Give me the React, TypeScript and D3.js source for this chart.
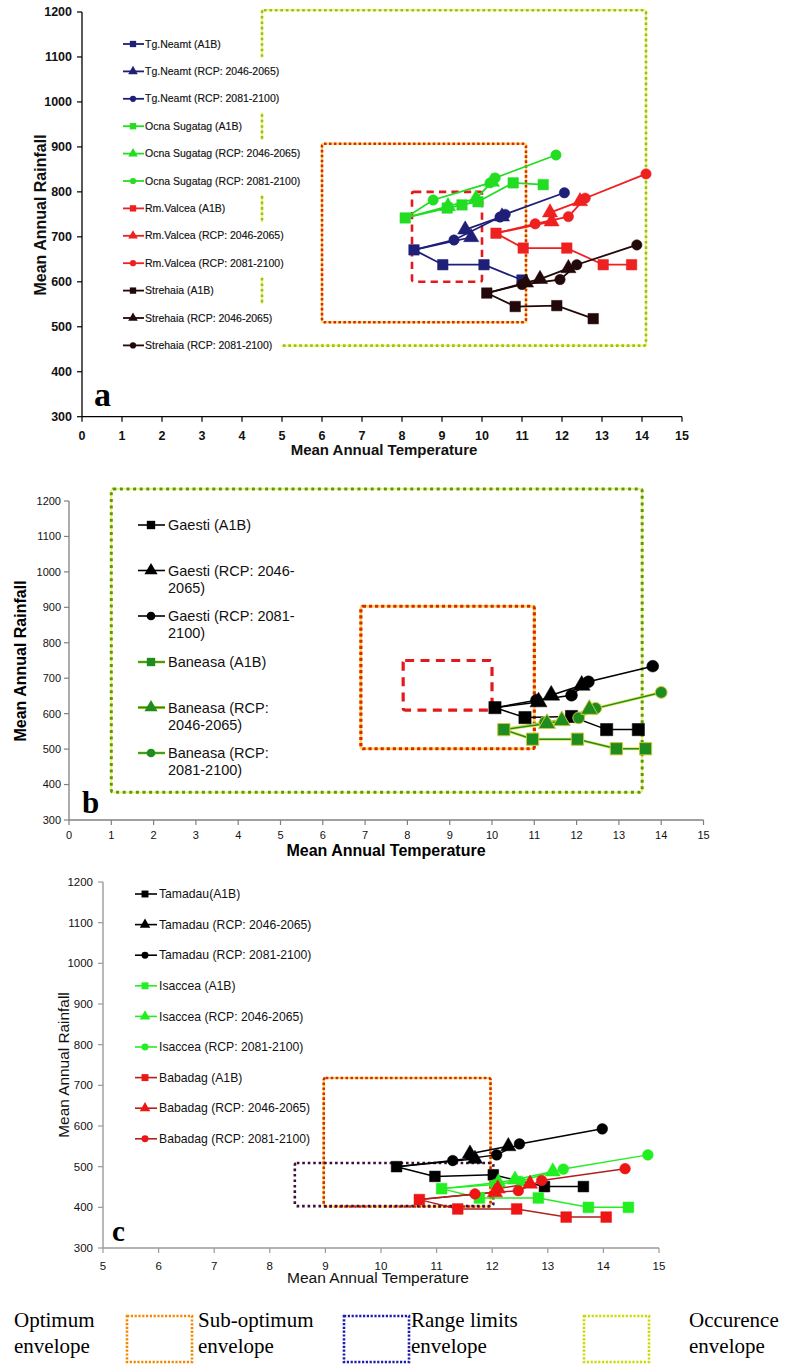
import React from 'react';
import * as d3 from 'd3';

type Pt = [number, number];

// ---------- Panel a data (Mean Annual Temperature, Mean Annual Rainfall) ----------
const tgNeamtA1B: Pt[] = [[8.3, 671], [9.02, 638], [10.05, 638], [11.0, 604]];
const tgNeamtRcp4665: Pt[] = [[8.3, 671], [9.73, 699], [9.58, 716], [10.5, 745]];
const tgNeamtRcp8100: Pt[] = [[8.3, 671], [9.3, 693], [10.45, 744], [10.58, 750], [12.06, 798]];
const ocnaA1B: Pt[] = [[8.08, 742], [9.13, 764], [9.5, 771], [9.9, 778], [10.78, 820], [11.53, 816]];
const ocnaRcp4665: Pt[] = [[8.08, 742], [9.15, 768], [9.85, 785], [10.25, 822]];
const ocnaRcp8100: Pt[] = [[8.08, 742], [8.78, 782], [10.2, 820], [10.33, 831], [11.85, 882]];
const rmValceaA1B: Pt[] = [[10.35, 708], [11.03, 675], [12.12, 675], [13.03, 638], [13.74, 638]];
const rmValceaRcp4665: Pt[] = [[10.35, 708], [11.74, 734], [11.7, 754], [12.45, 779]];
const rmValceaRcp8100: Pt[] = [[10.35, 708], [11.33, 729], [12.16, 745], [12.58, 786], [14.1, 840]];
const strehaiaA1B: Pt[] = [[10.12, 575], [10.83, 545], [11.87, 547], [12.78, 518]];
const strehaiaRcp4665: Pt[] = [[10.12, 575], [11.1, 598], [11.45, 606], [12.16, 630]];
const strehaiaRcp8100: Pt[] = [[10.12, 575], [11.0, 594], [11.95, 605], [12.37, 638], [13.87, 682]];

// ---------- Panel b data ----------
const gaestiA1B: Pt[] = [[10.07, 617], [10.78, 589], [11.88, 592], [12.71, 555], [13.46, 555]];
const gaestiRcp4665: Pt[] = [[10.07, 617], [11.1, 633], [11.4, 652], [12.12, 680]];
const gaestiRcp8100: Pt[] = [[10.07, 617], [11.05, 638], [11.88, 652], [12.28, 690], [13.8, 734]];
const baneasaA1B: Pt[] = [[10.28, 555], [10.96, 528], [12.02, 528], [12.94, 501], [13.63, 501]];
const baneasaRcp4665: Pt[] = [[10.28, 555], [11.3, 572], [11.65, 580], [12.3, 612]];
const baneasaRcp8100: Pt[] = [[10.28, 555], [11.25, 575], [12.05, 588], [12.45, 615], [14.0, 660]];

// ---------- Panel c data ----------
const tamadauA1B: Pt[] = [[10.28, 500], [10.97, 476], [12.02, 480], [12.94, 451], [13.64, 451]];
const tamadauRcp4665: Pt[] = [[10.28, 500], [11.69, 519], [11.6, 532], [12.29, 550]];
const tamadauRcp8100: Pt[] = [[10.28, 500], [11.29, 515], [12.08, 529], [12.49, 556], [13.98, 593]];
const isacceaA1B: Pt[] = [[11.09, 446], [11.77, 423], [12.83, 423], [13.73, 400], [14.45, 400]];
const isacceaRcp4665: Pt[] = [[11.09, 446], [12.11, 461], [12.41, 468], [13.09, 488]];
const isacceaRcp8100: Pt[] = [[11.09, 446], [12.05, 456], [12.5, 464], [13.28, 494], [14.8, 529]];
const babadagA1B: Pt[] = [[10.69, 419], [11.38, 396], [12.44, 396], [13.33, 376], [14.05, 376]];
const babadagRcp4665: Pt[] = [[10.69, 419], [12.05, 437], [12.1, 446], [12.68, 458]];
const babadagRcp8100: Pt[] = [[10.69, 419], [11.69, 433], [12.47, 441], [12.89, 466], [14.39, 495]];

// ---------- Envelopes [xMin, xMax, yMin, yMax] ----------
const envOccurrenceA = [4.5, 14.1, 458, 1204];
const envSubOptimumA = [6.0, 11.1, 510, 907];
const envOptimumA = [8.25, 10.0, 600, 800];
const envOccurrenceB = [1.0, 13.55, 378, 1234];
const envSubOptimumB = [6.9, 11.0, 501, 903];
const envOptimumB = [7.9, 10.0, 610, 750];
const envSubOptimumC = [8.97, 11.97, 402, 718];
const envRangeC = [8.45, 12.02, 403, 509];

// ---------- Ticks & labels ----------
const yTicks = [300, 400, 500, 600, 700, 800, 900, 1000, 1100, 1200];
const xTicksAB = [0, 1, 2, 3, 4, 5, 6, 7, 8, 9, 10, 11, 12, 13, 14, 15];
const xTicksC = [5, 6, 7, 8, 9, 10, 11, 12, 13, 14, 15];

const legendLabelsA = [
  'Tg.Neamt (A1B)', 'Tg.Neamt (RCP: 2046-2065)', 'Tg.Neamt (RCP: 2081-2100)',
  'Ocna Sugatag (A1B)', 'Ocna Sugatag (RCP: 2046-2065)', 'Ocna Sugatag (RCP: 2081-2100)',
  'Rm.Valcea (A1B)', 'Rm.Valcea (RCP: 2046-2065)', 'Rm.Valcea (RCP: 2081-2100)',
  'Strehaia (A1B)', 'Strehaia (RCP: 2046-2065)', 'Strehaia (RCP: 2081-2100)',
];
const legendLabelsB = [
  ['Gaesti (A1B)'], ['Gaesti  (RCP: 2046-', '2065)'], ['Gaesti (RCP: 2081-', '2100)'],
  ['Baneasa (A1B)'], ['Baneasa (RCP:', '2046-2065)'], ['Baneasa (RCP:', '2081-2100)'],
];
const legendLabelsC = [
  'Tamadau(A1B)', 'Tamadau (RCP: 2046-2065)', 'Tamadau (RCP: 2081-2100)',
  'Isaccea (A1B)', 'Isaccea (RCP: 2046-2065)', 'Isaccea (RCP: 2081-2100)',
  'Babadag (A1B)', 'Babadag (RCP: 2046-2065)', 'Babadag (RCP: 2081-2100)',
];
const bottomLegendLabels = [
  ['Optimum', 'envelope'], ['Sub-optimum', 'envelope'], ['Range limits', 'envelope'], ['Occurence', 'envelope'],
];

type Shape = 'square' | 'triangle' | 'circle';
const shapes: Shape[] = ['square', 'triangle', 'circle'];

const symPath = (shape: Shape, size: number) =>
  d3.symbol().type(shape === 'square' ? d3.symbolSquare : shape === 'triangle' ? d3.symbolTriangle : d3.symbolCircle).size(size)() as string;

let ctx: CanvasRenderingContext2D | null = null;
const measure = (t: string, font: string) => {
  if (!ctx) ctx = document.createElement('canvas').getContext('2d');
  if (!ctx) return t.length * 5;
  ctx.font = font;
  return ctx.measureText(t).width;
};

interface Series { pts: Pt[]; color: string; line: string; shape: Shape; halo?: string; mstroke?: string; }

const SANS = "'Liberation Sans', Arial, sans-serif";
const SERIF = "'Liberation Serif', 'Times New Roman', serif";

function SeriesMarks({ series, x, y, sizes, lw }: { series: Series[]; x: any; y: any; sizes: Record<Shape, number>; lw: number }) {
  const line = d3.line<Pt>().x(d => x(d[0])).y(d => y(d[1]));
  return (
    <g>
      {series.map((s, i) => (
        <g key={'l' + i}>
          {s.halo && <path d={line(s.pts) as string} fill="none" stroke={s.halo} strokeWidth={lw + 1.6} />}
          <path d={line(s.pts) as string} fill="none" stroke={s.line} strokeWidth={lw} />
        </g>
      ))}
      {series.map((s, i) => (
        <g key={'m' + i}>
          {s.pts.map((p, j) => (j === 0 && s.shape !== 'square') ? null : (
            <path key={j} d={symPath(s.shape, sizes[s.shape])} transform={`translate(${x(p[0])},${y(p[1])})`}
              fill={s.color} stroke={s.mstroke || s.color} strokeWidth={s.mstroke ? 1 : 0.5} />
          ))}
        </g>
      ))}
    </g>
  );
}

function Envelope({ e, x, y, kind, w }: { e: number[]; x: any; y: any; kind: string; w: number }) {
  const X0 = x(e[0]), X1 = x(e[1]), Y0 = y(e[3]), Y1 = y(e[2]);
  const r = { x: X0, y: Y0, width: X1 - X0, height: Y1 - Y0, fill: 'none', rx: 2 };
  if (kind === 'optimum') return <rect {...r} stroke="#e3191b" strokeWidth={w} strokeDasharray={`${w * 2.8} ${w * 2}`} />;
  if (kind === 'sub') return (
    <g>
      <rect {...r} stroke="#ffd84a" strokeWidth={w * 0.8} />
      <rect {...r} stroke="#d82a05" strokeWidth={w} strokeDasharray={`${w} ${w * 0.9}`} />
    </g>
  );
  if (kind === 'occA') return (
    <g>
      <rect {...r} stroke="#f2f27a" strokeWidth={w * 0.7} />
      <rect {...r} stroke="#99c400" strokeWidth={w} strokeDasharray={`${w} ${w * 1.1}`} />
    </g>
  );
  if (kind === 'occB') return (
    <g>
      <rect {...r} stroke="#eef07a" strokeWidth={w * 0.6} />
      <rect {...r} stroke="#5c9a00" strokeWidth={w} strokeDasharray={`${w} ${w * 1.2}`} />
    </g>
  );
  return <rect {...r} stroke="#3d0d3d" strokeWidth={w} strokeDasharray={`${w} ${w * 1.1}`} />;
}

export default function App() {
  // ---------- Panel a ----------
  const xa = d3.scaleLinear().domain([0, 15]).range([82, 682]);
  const ya = d3.scaleLinear().domain([300, 1200]).range([416.7, 12]);
  const cNavy = '#1f1f78', cGreen = '#22dd22', cRed = '#ee2020', cDark = '#220808';
  const seriesA: Series[] = [
    { pts: tgNeamtRcp8100, color: cNavy, line: cNavy, shape: 'circle' },
    { pts: tgNeamtRcp4665, color: cNavy, line: cNavy, shape: 'triangle' },
    { pts: tgNeamtA1B, color: cNavy, line: cNavy, shape: 'square' },
    { pts: ocnaRcp8100, color: cGreen, line: cGreen, shape: 'circle' },
    { pts: ocnaRcp4665, color: cGreen, line: cGreen, shape: 'triangle' },
    { pts: ocnaA1B, color: cGreen, line: cGreen, shape: 'square' },
    { pts: rmValceaRcp8100, color: cRed, line: cRed, shape: 'circle' },
    { pts: rmValceaRcp4665, color: cRed, line: cRed, shape: 'triangle' },
    { pts: rmValceaA1B, color: cRed, line: cRed, shape: 'square' },
    { pts: strehaiaRcp8100, color: cDark, line: cDark, shape: 'circle' },
    { pts: strehaiaRcp4665, color: cDark, line: cDark, shape: 'triangle' },
    { pts: strehaiaA1B, color: cDark, line: cDark, shape: 'square' },
  ];
  const legendColorsA = [cNavy, cNavy, cNavy, cGreen, cGreen, cGreen, cRed, cRed, cRed, cDark, cDark, cDark];
  const fontLegA = `10.5px ${SANS}`;

  // ---------- Panel b ----------
  const xb = d3.scaleLinear().domain([0, 15]).range([69, 703.5]);
  const yb = d3.scaleLinear().domain([300, 1200]).range([820, 501]);
  const cBlack = '#000000', cDG = '#1e8c1e';
  const seriesB: Series[] = [
    { pts: gaestiRcp8100, color: cBlack, line: cBlack, shape: 'circle' },
    { pts: gaestiRcp4665, color: cBlack, line: cBlack, shape: 'triangle' },
    { pts: gaestiA1B, color: cBlack, line: cBlack, shape: 'square' },
    { pts: baneasaRcp8100, color: cDG, line: cDG, shape: 'circle', halo: '#e6e65a', mstroke: '#c9c93a' },
    { pts: baneasaRcp4665, color: cDG, line: cDG, shape: 'triangle', halo: '#e6e65a', mstroke: '#c9c93a' },
    { pts: baneasaA1B, color: cDG, line: cDG, shape: 'square', halo: '#e6e65a', mstroke: '#c9c93a' },
  ];
  const legendColorsB = [cBlack, cBlack, cBlack, cDG, cDG, cDG];
  const legendRowsB = [525, 570.5, 616, 662, 707.5, 753];

  // ---------- Panel c ----------
  const xc = d3.scaleLinear().domain([5, 15]).range([103, 659]);
  const yc = d3.scaleLinear().domain([300, 1200]).range([1248, 882]);
  const cLG = '#22ee22', cBR = '#ee1515', cBRl = '#b02020';
  const seriesC: Series[] = [
    { pts: tamadauRcp8100, color: cBlack, line: cBlack, shape: 'circle' },
    { pts: tamadauRcp4665, color: cBlack, line: cBlack, shape: 'triangle' },
    { pts: tamadauA1B, color: cBlack, line: cBlack, shape: 'square' },
    { pts: isacceaRcp8100, color: cLG, line: cLG, shape: 'circle' },
    { pts: isacceaRcp4665, color: cLG, line: cLG, shape: 'triangle' },
    { pts: isacceaA1B, color: cLG, line: cLG, shape: 'square' },
    { pts: babadagRcp8100, color: cBR, line: cBRl, shape: 'circle' },
    { pts: babadagRcp4665, color: cBR, line: cBRl, shape: 'triangle' },
    { pts: babadagA1B, color: cBR, line: cBRl, shape: 'square' },
  ];
  const legendColorsC = [cBlack, cBlack, cBlack, cLG, cLG, cLG, cBR, cBR, cBR];

  const bottomBoxColors = ['none', '#f28a00', '#1c1cb0', '#c8dc00'];
  const bottomBoxX = [0, 127, 344, 584];
  const bottomTextX = [14, 198, 411, 689];

  return (
    <svg width={786} height={1366} style={{ position: 'absolute', left: 0, top: 0, background: '#fff' }} fontFamily={SANS}>
      <rect x={0} y={0} width={786} height={1366} fill="#fff" />

      {/* ================= Panel a ================= */}
      <g>
        <Envelope e={envOccurrenceA} x={xa} y={ya} kind="occA" w={2.6} />
        <Envelope e={envSubOptimumA} x={xa} y={ya} kind="sub" w={2.6} />
        <Envelope e={envOptimumA} x={xa} y={ya} kind="optimum" w={2.6} />
        <line x1={xa(0)} x2={xa(0)} y1={ya(300)} y2={ya(1200)} stroke="#000" strokeWidth={1.3} />
        <line x1={xa(0)} x2={xa(15)} y1={ya(300)} y2={ya(300)} stroke="#000" strokeWidth={1.3} />
        {yTicks.map(t => (
          <g key={'ya' + t}>
            <line x1={xa(0) - 5} x2={xa(0)} y1={ya(t)} y2={ya(t)} stroke="#000" strokeWidth={1.2} />
            <text x={72} y={ya(t)} dy="0.35em" textAnchor="end" fontSize={12.5} fontWeight="bold" fill="#111">{t}</text>
          </g>
        ))}
        {xTicksAB.map(t => (
          <g key={'xa' + t}>
            <line x1={xa(t)} x2={xa(t)} y1={ya(300)} y2={ya(300) + 5} stroke="#000" strokeWidth={1.2} />
            <text x={xa(t)} y={440} textAnchor="middle" fontSize={12.5} fontWeight="bold" fill="#111">{t}</text>
          </g>
        ))}
        <text transform="translate(46,215) rotate(-90)" textAnchor="middle" fontSize={16} fontWeight="bold" fill="#111">Mean Annual Rainfall</text>
        <text x={384} y={455} textAnchor="middle" fontSize={15} fontWeight="bold" fill="#111">Mean Annual Temperature</text>
        <text x={94} y={406} fontFamily={SERIF} fontSize={34} fontWeight="bold" fill="#000">a</text>
        <SeriesMarks series={seriesA} x={xa} y={ya} sizes={{ square: 110, triangle: 100, circle: 85 }} lw={1.8} />
        {legendLabelsA.map((lab, i) => {
          const cy = 44 + i * 27.4;
          const w = measure(lab, fontLegA);
          const col = legendColorsA[i];
          return (
            <g key={'la' + i}>
              <rect x={118} y={cy - 13.7} width={145 + w + 9 - 118} height={27.4} fill="#fff" />
              <line x1={123} x2={144} y1={cy} y2={cy} stroke={col} strokeWidth={1.8} />
              <path d={symPath(shapes[i % 3], i % 3 === 2 ? 30 : 40)} transform={`translate(133,${cy})`} fill={col} />
              <text x={145} y={cy} dy="0.35em" fontSize={10.5} fill="#111" stroke="#111" strokeWidth={0.15}>{lab}</text>
            </g>
          );
        })}
      </g>

      {/* ================= Panel b ================= */}
      <g>
        <Envelope e={envOccurrenceB} x={xb} y={yb} kind="occB" w={3} />
        <Envelope e={envSubOptimumB} x={xb} y={yb} kind="sub" w={3.2} />
        <Envelope e={envOptimumB} x={xb} y={yb} kind="optimum" w={3.2} />
        <line x1={xb(0)} x2={xb(0)} y1={yb(300)} y2={yb(1200)} stroke="#808080" strokeWidth={1.3} />
        <line x1={xb(0)} x2={xb(15)} y1={yb(300)} y2={yb(300)} stroke="#808080" strokeWidth={1.3} />
        {yTicks.map(t => (
          <g key={'yb' + t}>
            <line x1={xb(0) - 5} x2={xb(0)} y1={yb(t)} y2={yb(t)} stroke="#808080" strokeWidth={1.2} />
            <text x={61} y={yb(t)} dy="0.35em" textAnchor="end" fontSize={11} fill="#111">{t}</text>
          </g>
        ))}
        {xTicksAB.map(t => (
          <g key={'xb' + t}>
            <line x1={xb(t)} x2={xb(t)} y1={yb(300)} y2={yb(300) + 5} stroke="#808080" strokeWidth={1.2} />
            <text x={xb(t)} y={839} textAnchor="middle" fontSize={11} fill="#111">{t}</text>
          </g>
        ))}
        <text transform="translate(26,661) rotate(-90)" textAnchor="middle" fontSize={16} fontWeight="bold" fill="#000">Mean Annual Rainfall</text>
        <text x={386} y={856} textAnchor="middle" fontSize={16} fontWeight="bold" fill="#000">Mean Annual Temperature</text>
        <text x={82} y={813} fontFamily={SERIF} fontSize={31} fontWeight="bold" fill="#000">b</text>
        <SeriesMarks series={seriesB} x={xb} y={yb} sizes={{ square: 150, triangle: 125, circle: 110 }} lw={1.5} />
        {legendLabelsB.map((lines, i) => {
          const cy = legendRowsB[i];
          const col = legendColorsB[i];
          const halo = i === 4 ? '#c8d400' : i >= 3 ? '#d8dc50' : null;
          return (
            <g key={'lb' + i}>
              {halo && <line x1={138} x2={165} y1={cy} y2={cy} stroke={halo} strokeWidth={3} />}
              <line x1={138} x2={165} y1={cy} y2={cy} stroke={col} strokeWidth={1.6} />
              <path d={symPath(shapes[i % 3], i % 3 === 0 ? 70 : i % 3 === 1 ? 75 : 60)} transform={`translate(151,${cy})`} fill={col} />
              {lines.map((t, k) => (
                <text key={k} x={168} y={cy + k * 17} dy="0.35em" fontSize={14.5} fill="#111">{t}</text>
              ))}
            </g>
          );
        })}
      </g>

      {/* ================= Panel c ================= */}
      <g>
        <Envelope e={envSubOptimumC} x={xc} y={yc} kind="sub" w={2.6} />
        <Envelope e={envRangeC} x={xc} y={yc} kind="range" w={2.6} />
        <line x1={xc(5)} x2={xc(5)} y1={yc(300)} y2={yc(1200)} stroke="#9a9a9a" strokeWidth={1.4} />
        <line x1={xc(5)} x2={xc(15)} y1={yc(300)} y2={yc(300)} stroke="#9a9a9a" strokeWidth={1.4} />
        {yTicks.map(t => (
          <g key={'yc' + t}>
            <line x1={xc(5) - 5} x2={xc(5)} y1={yc(t)} y2={yc(t)} stroke="#9a9a9a" strokeWidth={1.2} />
            <text x={93} y={yc(t)} dy="0.35em" textAnchor="end" fontSize={11.5} fill="#111">{t}</text>
          </g>
        ))}
        {xTicksC.map(t => (
          <g key={'xc' + t}>
            <line x1={xc(t)} x2={xc(t)} y1={yc(300)} y2={yc(300) + 5} stroke="#9a9a9a" strokeWidth={1.2} />
            <text x={xc(t)} y={1270} textAnchor="middle" fontSize={11.5} fill="#111">{t}</text>
          </g>
        ))}
        <text transform="translate(69,1065) rotate(-90)" textAnchor="middle" fontSize={15.4} fill="#111">Mean Annual Rainfall</text>
        <text x={378} y={1283} textAnchor="middle" fontSize={14} textLength={182} lengthAdjust="spacingAndGlyphs" fill="#111">Mean Annual Temperature</text>
        <text x={112} y={1241} fontFamily={SERIF} fontSize={29} fontWeight="bold" fill="#000">c</text>
        <SeriesMarks series={seriesC} x={xc} y={yc} sizes={{ square: 115, triangle: 100, circle: 90 }} lw={1.5} />
        {legendLabelsC.map((lab, i) => {
          const cy = 894 + i * 30.6;
          const col = legendColorsC[i];
          const lcol = i >= 6 ? cBRl : col;
          return (
            <g key={'lc' + i}>
              <line x1={135} x2={157} y1={cy} y2={cy} stroke={lcol} strokeWidth={1.6} />
              <path d={symPath(shapes[i % 3], i % 3 === 2 ? 38 : 48)} transform={`translate(145,${cy})`} fill={col} />
              <text x={159} y={cy} dy="0.35em" fontSize={12.2} fill="#111">{lab}</text>
            </g>
          );
        })}
      </g>

      {/* ================= Bottom legend ================= */}
      <g fontFamily={SERIF} fontSize={21}>
        {bottomLegendLabels.map((lines, i) => (
          <g key={'bl' + i}>
            {i > 0 && (
              <rect x={bottomBoxX[i]} y={1316} width={65} height={46} fill="none" stroke={bottomBoxColors[i]} strokeWidth={2.6} strokeDasharray="2.2 1.6" />
            )}
            {lines.map((t, k) => (
              <text key={k} x={bottomTextX[i]} y={1327 + k * 26} fill="#000">{t}</text>
            ))}
          </g>
        ))}
      </g>
    </svg>
  );
}
